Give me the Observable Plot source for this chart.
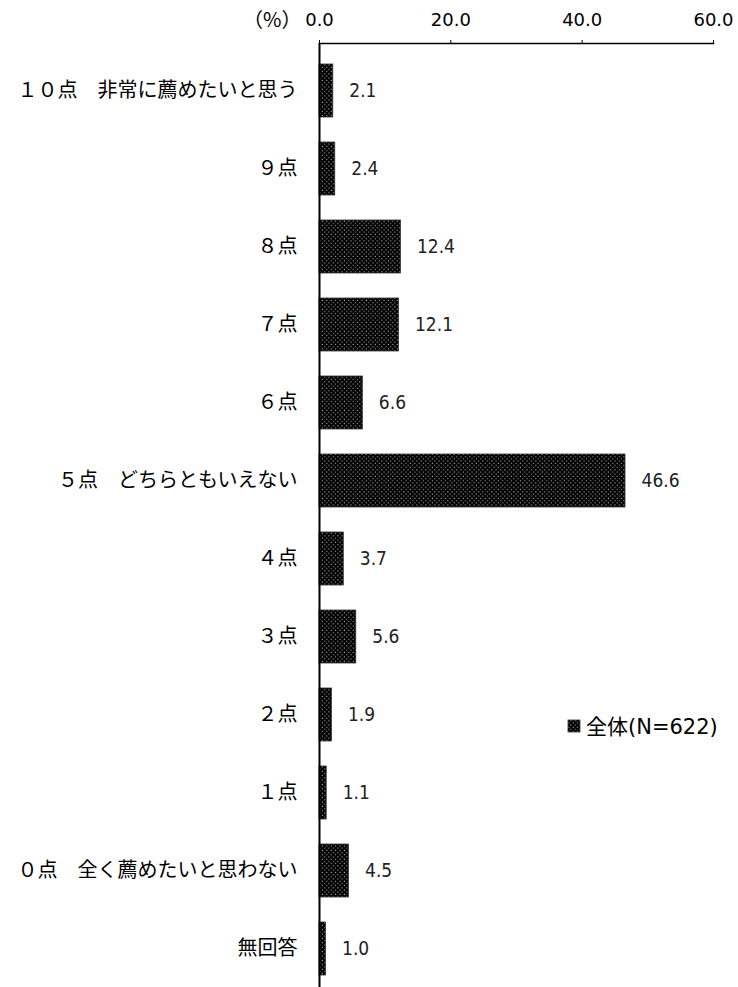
<!DOCTYPE html>
<html>
<head>
<meta charset="utf-8">
<script src="https://cdn.jsdelivr.net/npm/d3@7"></script>
<script src="https://cdn.jsdelivr.net/npm/@observablehq/plot@0.6"></script>
<style>
  html, body { margin: 0; padding: 0; background: #fff; }
  #chart { width: 738px; height: 987px; }
</style>
</head>
<body>
<div id="chart"></div>
<script>
const categories = [
  "１０点　非常に薦めたいと思う",
  "９点",
  "８点",
  "７点",
  "６点",
  "５点　どちらともいえない",
  "４点",
  "３点",
  "２点",
  "１点",
  "０点　全く薦めたいと思わない",
  "無回答"
];
const values = [2.1, 2.4, 12.4, 12.1, 6.6, 46.6, 3.7, 5.6, 1.9, 1.1, 4.5, 1.0];
const xTicks = [0, 20, 40, 60];
const seriesName = "全体(N=622)";
const unitLabel = "（%）";

const data = categories.map((c, i) => ({c, v: values[i]}));

const cjk = "'Noto Sans CJK JP', 'DejaVu Sans', sans-serif";
const latin = "'DejaVu Sans', 'Noto Sans CJK JP', sans-serif";
const narrow = "'DejaVu Sans Condensed', 'Liberation Sans Narrow', 'DejaVu Sans', sans-serif";

const chart = Plot.plot({
  width: 738,
  height: 987,
  marginTop: 43,
  marginLeft: 319,
  marginRight: 25,
  marginBottom: 0,
  style: {fontFamily: cjk, fontSize: "17px", color: "#000", background: "#fff"},
  x: {domain: [0, 60], ticks: xTicks},
  y: {domain: categories, range: [45.8, 992.6], paddingInner: 0.316, paddingOuter: 0.158},
  marks: [
    Plot.barX(data, {x: "v", y: "c", fill: "url(#dots)", stroke: "#333", strokeWidth: 0.8}),
    Plot.text(data, {x: "v", y: "c", text: d => d.v.toFixed(1), dx: 16, textAnchor: "start",
      fontSize: 19, fill: "#222", fontFamily: narrow}),
    Plot.axisX({anchor: "top", ticks: xTicks, tickFormat: d => d.toFixed(1), tickSize: 4, tickPadding: 14,
      fontSize: 18, fontFamily: latin, label: null, fill: "#000"}),
    Plot.axisY({tickSize: 0, tickPadding: 22, label: null, fontSize: 20, fill: "#000"}),
    Plot.frame({anchor: "top", strokeWidth: 1.5, stroke: "#000"}),
    Plot.ruleX([0], {strokeWidth: 2, stroke: "#000"}),
    Plot.text([unitLabel], {x: 0, frameAnchor: "top", dy: -17, dx: -18, textAnchor: "end",
      lineAnchor: "bottom", fontSize: 20, fill: "#000"})
  ]
});

// make sure tick label font applies
d3.select(chart).selectAll('[aria-label="x-axis tick label"]')
  .attr("font-size", 18).attr("font-family", latin);

// pattern definition
const ns = "http://www.w3.org/2000/svg";
const defs = document.createElementNS(ns, "defs");
defs.innerHTML = `
  <pattern id="dots" patternUnits="userSpaceOnUse" width="4.4" height="4.4">
    <rect width="4.4" height="4.4" fill="#000"/>
    <rect x="0.7" y="0.7" width="1" height="1" fill="#d8d8d8"/>
    <rect x="2.9" y="2.9" width="1" height="1" fill="#d8d8d8"/>
  </pattern>`;
chart.insertBefore(defs, chart.firstChild);

// legend
const lg = d3.select(chart).append("g").attr("font-family", latin).attr("text-anchor", "start");
lg.append("rect").attr("x", 568).attr("y", 720).attr("width", 12).attr("height", 12)
  .attr("fill", "url(#dots)").attr("stroke", "#333").attr("stroke-width", 0.8);
lg.append("text").attr("x", 586).attr("y", 726).attr("dy", "0.36em")
  .attr("font-size", 21).attr("fill", "#000").text(seriesName);

document.getElementById("chart").appendChild(chart);
</script>
</body>
</html>
